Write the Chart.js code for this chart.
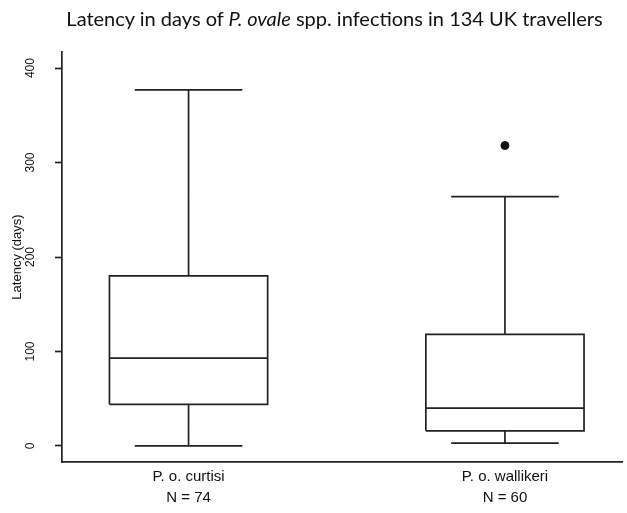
<!DOCTYPE html>
<html>
<head>
<meta charset="utf-8">
<script src="https://cdn.jsdelivr.net/npm/chart.js@4"></script>
<style>
  body { margin: 0; background: #fff; }
  #wrap { position: relative; width: 627px; height: 513px; }
  #titulo {
    position: absolute; left: 0; top: 6px; width: 627px;
    text-align: center; font-family: Lato, "Open Sans", sans-serif;
    font-size: 20px; color: #111; padding-left: 42px; box-sizing: border-box;
    white-space: nowrap;
  }
</style>
</head>
<body>
<div id="wrap">
  <div id="titulo">Latency in days of <i>P. ovale</i> spp. infections in 134 UK travellers</div>
  <canvas id="myBoxChart" width="627" height="513"></canvas>
</div>
<script>
// dados
const grupos = ['P. o. curtisi', 'P. o. wallikeri']
const contagem = ['N = 74', 'N = 60']
const minimo = [0, 3]
const quartil1 = [44, 16]
const mediana = [93, 40]
const quartil3 = [180, 118]
const maximo = [377, 264]
const outliers = [[], [318]]
const yTicks = [0, 100, 200, 300, 400]

const meiaCaixa = 0.25 // meia largura da caixa (unidades do eixo x)
const meiaBarra = 0.17 // meia largura das barras dos bigodes

// monta os segmentos de cada boxplot (null quebra a linha)
const linhasBox = []
const pontosOut = []
grupos.forEach((g, i) => {
    const x = i + 1
    linhasBox.push(
        {x: x - meiaCaixa, y: quartil1[i]}, {x: x + meiaCaixa, y: quartil1[i]},
        {x: x + meiaCaixa, y: quartil3[i]}, {x: x - meiaCaixa, y: quartil3[i]},
        {x: x - meiaCaixa, y: quartil1[i]}, {x: x, y: null},
        {x: x - meiaCaixa, y: mediana[i]}, {x: x + meiaCaixa, y: mediana[i]}, {x: x, y: null},
        {x: x, y: quartil3[i]}, {x: x, y: maximo[i]}, {x: x, y: null},
        {x: x - meiaBarra, y: maximo[i]}, {x: x + meiaBarra, y: maximo[i]}, {x: x, y: null},
        {x: x, y: quartil1[i]}, {x: x, y: minimo[i]}, {x: x, y: null},
        {x: x - meiaBarra, y: minimo[i]}, {x: x + meiaBarra, y: minimo[i]}, {x: x, y: null}
    )
    outliers[i].forEach(v => pontosOut.push({x: x, y: v}))
})

var boxCtx = document.getElementById('myBoxChart').getContext('2d');
const boxChart = new Chart(boxCtx, {
    type: 'scatter',
    data: {
        datasets: [
            {
                data: linhasBox,
                showLine: true,
                spanGaps: false,
                borderColor: '#222',
                borderWidth: 1.7,
                borderJoinStyle: 'miter',
                pointRadius: 0,
            },
            {
                data: pontosOut,
                backgroundColor: '#111',
                borderColor: '#111',
                pointRadius: 4,
            }
        ]
    },
    options: {
        responsive: false,
        animation: false,
        layout: { padding: { top: 52, right: 0, bottom: 0, left: 0 } },
        plugins: {
            legend: { display: false },
            tooltip: { enabled: false }
        },
        scales: {
            x: {
                type: 'linear',
                min: 0.6,
                max: 2.37,
                afterBuildTicks: (axis) => { axis.ticks = grupos.map((g, i) => ({value: i + 1})) },
                afterFit: (axis) => { axis.height = 51 },
                ticks: {
                    callback: (v) => [grupos[v - 1], contagem[v - 1]],
                    font: { family: 'Liberation Sans', size: 15, lineHeight: '21px' },
                    color: '#111',
                    padding: 4,
                    maxRotation: 0,
                },
                grid: { display: false, drawTicks: false },
                border: { display: true, color: '#222', width: 1.7 }
            },
            y: {
                min: -17,
                max: 417,
                afterBuildTicks: (axis) => { axis.ticks = yTicks.map(v => ({value: v})) },
                afterFit: (axis) => { axis.width = 62 },
                ticks: {
                    minRotation: 90,
                    maxRotation: 90,
                    crossAlign: 'center',
                    padding: 14,
                    font: { family: 'Liberation Sans', size: 12 },
                    color: '#111',
                },
                grid: {
                    drawOnChartArea: false, // so os tracinhos dos ticks
                    drawTicks: true,
                    tickLength: 7,
                    tickWidth: 1.7,
                    tickColor: '#222',
                },
                border: { display: true, color: '#222', width: 1.7 },
                title: {
                    display: true,
                    text: 'Latency (days)',
                    font: { family: 'Liberation Sans', size: 13 },
                    color: '#111',
                    padding: { top: 10, bottom: 0 }
                }
            }
        }
    }
});
</script>
</body>
</html>
